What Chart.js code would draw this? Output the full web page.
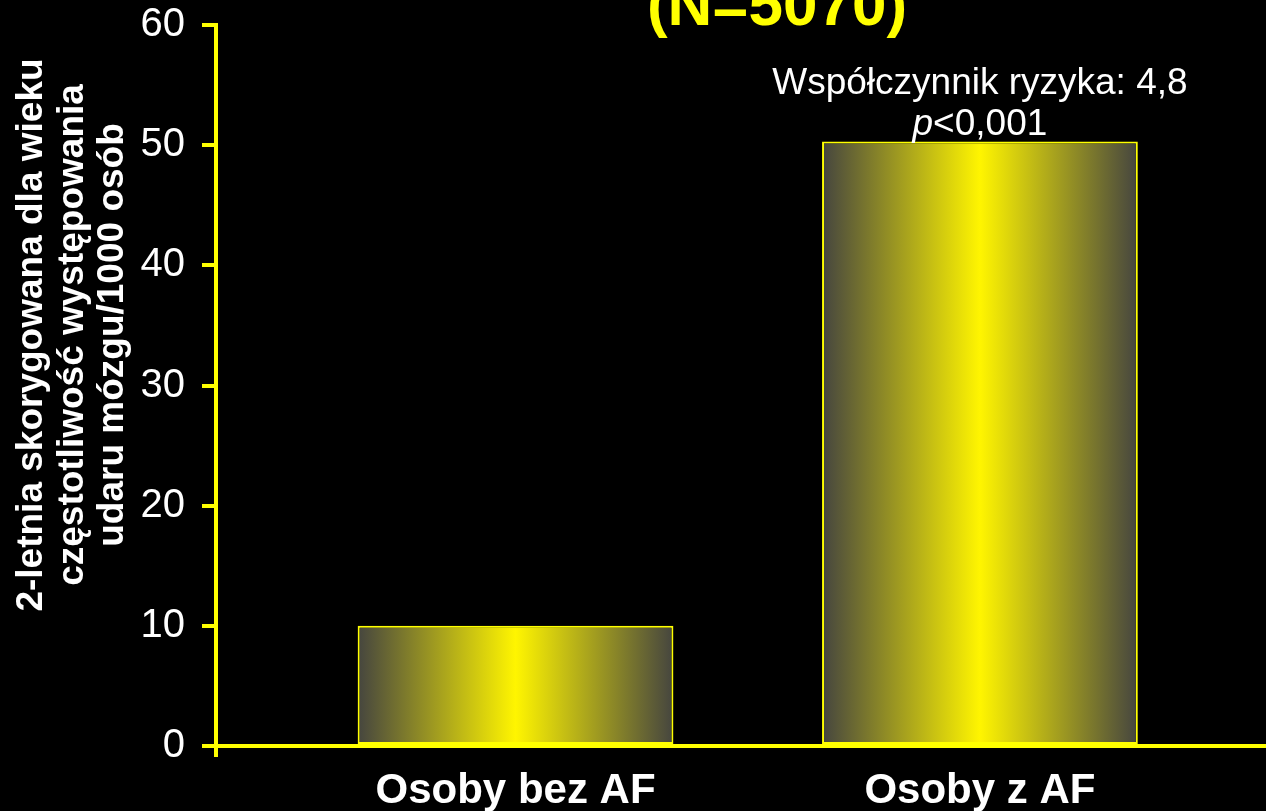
<!DOCTYPE html>
<html lang="pl">
<head>
<meta charset="UTF-8">
<title>Udar mózgu a AF</title>
<script src="https://cdn.jsdelivr.net/npm/chart.js@4/dist/chart.umd.min.js"></script>
<style>
  html, body { margin: 0; padding: 0; background: #000; }
  #wrap { width: 1266px; height: 811px; }
</style>
</head>
<body>
<div id="wrap"><canvas id="wykres" width="1266" height="811"></canvas></div>
<script>
// dane
const kategorie = ['Osoby bez AF', 'Osoby z AF'];
const pozycje = [1, 2];
const czestosc = [10, 50.3];
const yTicki = [0, 10, 20, 30, 40, 50, 60];
const tytulOsiY = ['2-letnia skorygowana dla wieku', 'częstotliwość występowania', 'udaru mózgu/1000 osób'];
const tytul = '(N=5070)';
const adnotacja = ['Współczynnik ryzyka: 4,8', 'p', '<0,001'];

const ZOLTY = '#ffff00';
const SZARY = '#45453f';
const FONT = "'Liberation Sans', Arial, sans-serif";

function gradient(ctx) {
    const chart = ctx.chart;
    const xs = chart.scales.x;
    if (!xs || ctx.dataIndex === undefined) return ZOLTY;
    const cx = xs.getPixelForValue(pozycje[ctx.dataIndex]);
    const pol = Math.abs(xs.getPixelForValue(2) - xs.getPixelForValue(1)) * 0.68 / 2;
    if (!isFinite(cx) || !pol) return ZOLTY;
    const g = chart.ctx.createLinearGradient(cx - pol, 0, cx + pol, 0);
    g.addColorStop(0, SZARY);
    g.addColorStop(0.5, '#fff500');
    g.addColorStop(1, SZARY);
    return g;
}

// teksty rysowane na wierzchu: tytul, opis osi y, adnotacja nad slupkiem
const napisy = {
    id: 'napisy',
    afterDraw(chart) {
        const c = chart.ctx;
        const xs = chart.scales.x, ys = chart.scales.y;
        c.save();

        c.fillStyle = ZOLTY;
        c.font = 'bold 62px ' + FONT;
        c.textAlign = 'center';
        c.textBaseline = 'alphabetic';
        c.fillText(tytul, 777, 25);

        c.fillStyle = '#fff';
        c.font = 'bold 37px ' + FONT;
        c.textBaseline = 'middle';
        tytulOsiY.forEach((linia, i) => {
            c.save();
            c.translate(32 + i * 40.5, 335);
            c.rotate(-Math.PI / 2);
            c.fillText(linia, 0, 0);
            c.restore();
        });

        const cx = xs.getPixelForValue(pozycje[1]);
        const gora = ys.getPixelForValue(czestosc[1]);
        c.textBaseline = 'alphabetic';
        c.font = '37px ' + FONT;
        c.textAlign = 'center';
        c.fillText(adnotacja[0], cx, gora - 48);

        c.textAlign = 'left';
        c.font = 'italic 37px ' + FONT;
        const wP = c.measureText(adnotacja[1]).width;
        c.font = '37px ' + FONT;
        const wR = c.measureText(adnotacja[2]).width;
        const x0 = cx - (wP + wR) / 2;
        c.font = 'italic 37px ' + FONT;
        c.fillText(adnotacja[1], x0, gora - 7);
        c.font = '37px ' + FONT;
        c.fillText(adnotacja[2], x0 + wP, gora - 7);

        // krotki odcinek osi y ponizej zera
        const x0os = chart.chartArea.left;
        const dol = chart.chartArea.bottom;
        c.strokeStyle = ZOLTY;
        c.lineWidth = 4;
        c.beginPath();
        c.moveTo(x0os, dol);
        c.lineTo(x0os, dol + 11);
        c.stroke();
        c.restore();
    }
};

new Chart(document.getElementById('wykres'), {
    type: 'bar',
    data: {
        datasets: [{
            data: pozycje.map((x, i) => ({ x: x, y: czestosc[i] })),
            backgroundColor: gradient,
            borderColor: ZOLTY,
            borderWidth: 2,
            borderSkipped: false,
            barPercentage: 0.68,
            categoryPercentage: 1
        }]
    },
    options: {
        responsive: false,
        animation: false,
        events: [],
        layout: { padding: { top: 25, right: 0, left: 0, bottom: 0 } },
        plugins: { legend: { display: false }, tooltip: { enabled: false } },
        scales: {
            x: {
                type: 'linear',
                min: 0.355,
                max: 2.616,
                offset: false,
                bounds: 'data',
                z: 1,
                grid: { display: false, offset: false },
                border: { color: ZOLTY, width: 4 },
                afterBuildTicks: s => { s.ticks = pozycje.map(v => ({ value: v })); },
                afterFit: s => { s.height = 65; s.paddingLeft = 0; s.paddingRight = 0; },
                ticks: {
                    color: '#fff',
                    font: { family: FONT, size: 42, weight: 'bold' },
                    padding: 12,
                    maxRotation: 0,
                    autoSkip: false,
                    callback: v => kategorie[pozycje.indexOf(v)] || ''
                }
            },
            y: {
                min: 0,
                max: 60,
                z: 1,
                afterBuildTicks: s => { s.ticks = yTicki.map(v => ({ value: v })); },
                afterFit: s => { s.width = 216; s.paddingTop = 0; s.paddingBottom = 0; },
                grid: {
                    drawOnChartArea: false,
                    drawTicks: true,
                    tickLength: 14,
                    tickWidth: 4,
                    tickColor: ZOLTY,
                    color: ZOLTY,
                    lineWidth: 4
                },
                border: { color: ZOLTY, width: 4 },
                ticks: {
                    color: '#fff',
                    font: { family: FONT, size: 40 },
                    padding: 17
                }
            }
        }
    },
    plugins: [napisy]
});
</script>
</body>
</html>
